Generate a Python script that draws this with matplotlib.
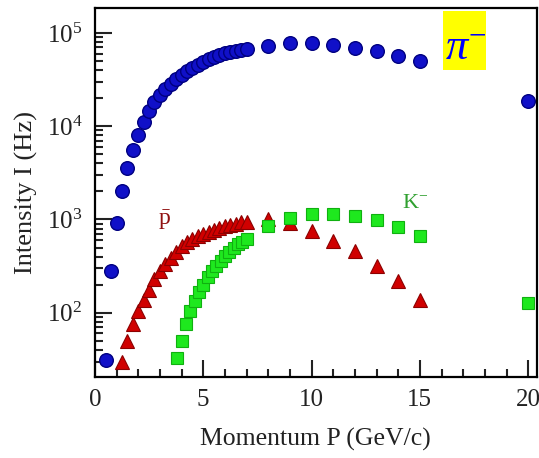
import matplotlib
matplotlib.use('Agg')
import matplotlib.pyplot as plt
from matplotlib.patches import Rectangle
from matplotlib.ticker import LogLocator, MultipleLocator, NullFormatter

plt.rcParams['font.family'] = ['Liberation Serif', 'DejaVu Serif']
plt.rcParams['mathtext.fontset'] = 'custom'
plt.rcParams['mathtext.rm'] = 'Liberation Serif'
plt.rcParams['mathtext.it'] = 'Liberation Serif:italic'

# pi- intensity vs momentum
pi_p = [0.5, 0.75, 1.0, 1.25, 1.5, 1.75, 2.0, 2.25, 2.5, 2.75, 3.0, 3.25, 3.5,
        3.75, 4.0, 4.25, 4.5, 4.75, 5.0, 5.25, 5.5, 5.75, 6.0, 6.25, 6.5, 6.75,
        7.0, 8, 9, 10, 11, 12, 13, 14, 15, 20]
pi_i = [31, 280, 920, 2000, 3600, 5600, 8000, 11000, 14500, 18000, 21500, 25000,
        28500, 32000, 35500, 39000, 42000, 45000, 48500, 52000, 55000, 58000,
        60500, 62000, 64000, 66000, 67500, 72400, 77400, 77400, 74300, 69000,
        64600, 56100, 49600, 18700]

# antiproton
pbar_p = [1.25, 1.5, 1.75, 2.0, 2.25, 2.5, 2.75, 3.0, 3.25, 3.5, 3.75, 4.0, 4.25,
          4.5, 4.75, 5.0, 5.25, 5.5, 5.75, 6.0, 6.25, 6.5, 6.75, 7.0,
          8, 9, 10, 11, 12, 13, 14, 15]
pbar_i = [30, 50, 75, 105, 138, 175, 230, 280, 335, 390, 450, 515, 570, 620, 660,
          700, 740, 775, 810, 845, 875, 905, 930, 950,
          1000, 920, 750, 585, 457, 314, 217, 138]

# K-
k_p = [3.8, 4.0, 4.2, 4.4, 4.6, 4.8, 5.0, 5.2, 5.4, 5.6, 5.8, 6.0, 6.2, 6.4, 6.6,
       6.8, 7.0, 8, 9, 10, 11, 12, 13, 14, 15, 20]
k_i = [33, 50, 75, 105, 135, 165, 200, 240, 280, 320, 360, 405, 450, 495, 540,
       580, 620, 850, 1040, 1150, 1150, 1085, 980, 826, 673, 127]

fig = plt.figure(figsize=(5.39, 4.58), dpi=100)
ax = fig.add_axes([0.176, 0.177, 0.82, 0.806])

ax.plot(pbar_p, pbar_i, '^', ms=10, color='#d00000', mec='#8c0000', mew=0.8, ls='none')
ax.plot(k_p, k_i, 's', ms=9.3, color='#1ee81e', mec='#10b010', mew=0.8, ls='none')
ax.plot(pi_p, pi_i, 'o', ms=9.8, color='#1010c8', mec='#000080', mew=1, ls='none')

ax.set_yscale('log')
ax.set_xlim(0, 20.4)
ax.set_ylim(20.5, 1.86e5)

ax.xaxis.set_major_locator(MultipleLocator(5))
ax.xaxis.set_minor_locator(MultipleLocator(1))
ax.yaxis.set_major_locator(LogLocator(base=10, numticks=10))
ax.yaxis.set_minor_locator(LogLocator(base=10, subs=range(2, 10), numticks=20))
ax.yaxis.set_minor_formatter(NullFormatter())

ax.tick_params(which='both', direction='in', top=False, right=False, width=1.5,
               labelsize=18, colors='#222222')
ax.tick_params(which='major', length=12)
ax.tick_params(which='minor', length=6)
ax.tick_params(axis='x', pad=9)
ax.tick_params(axis='y', pad=9)
for s in ax.spines.values():
    s.set_linewidth(1.6)

ax.set_xlabel('Momentum P (GeV/c)', fontsize=18.5, color='#222222', labelpad=12)
ax.set_ylabel('Intensity I (Hz)', fontsize=19, color='#222222', labelpad=6)

# labels
ax.add_patch(Rectangle((0.788, 0.832), 0.097, 0.16, transform=ax.transAxes,
                       facecolor='#ffff00', edgecolor='none', zorder=1))
ax.text(0.84, 0.887, r'$\pi^{-}$', transform=ax.transAxes, fontsize=32,
        color='#0000ff', ha='center', va='center', zorder=3)
ax.text(3.2, 980, r'$\bar{\mathrm{p}}$', fontsize=17, color='#901010',
        ha='center', va='center')
ax.text(14.8, 1500, r'K$^{-}$', fontsize=16, color='#30a030',
        ha='center', va='center')

fig.savefig('out.png', dpi=100)
